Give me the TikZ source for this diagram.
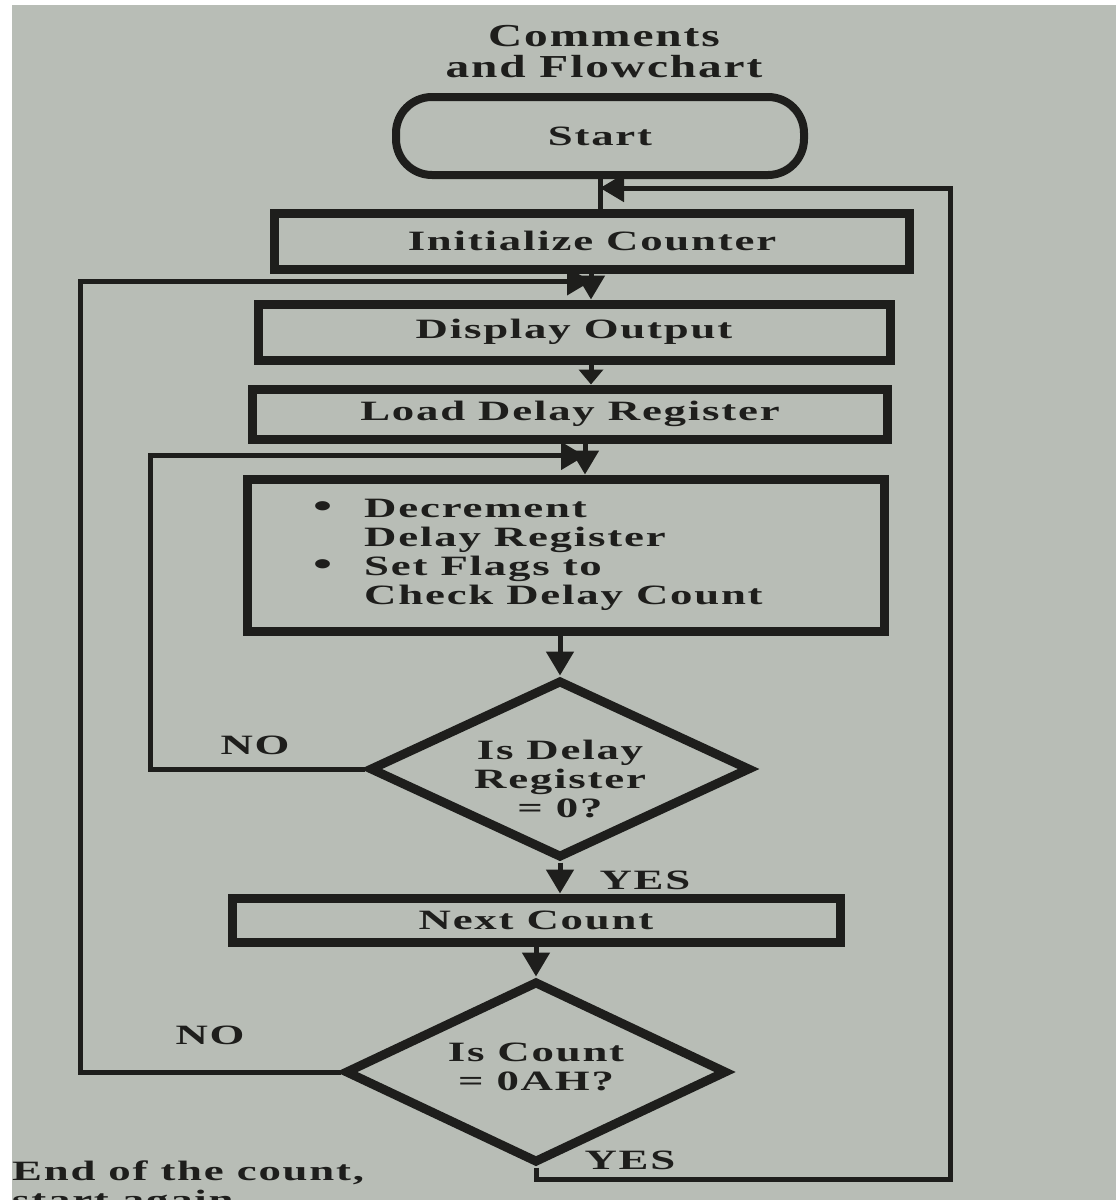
\documentclass[tikz,border=0pt]{standalone}
\usepackage{fontspec}
\setmainfont{Liberation Serif}[LetterSpace=4]
\usepackage{graphicx}
\usetikzlibrary{shapes.geometric,arrows.meta,calc}
\definecolor{paper}{RGB}{184,189,182}
\definecolor{ink}{RGB}{30,30,28}
% wide bold lettering used throughout the chart
\newcommand\stretched[1]{\scalebox{1.6}[1]{#1}}
\newcommand\titlestretch[1]{\scalebox{1.48}[1]{#1}}
\newcommand\bigdot{{\fontsize{34}{29}\selectfont\textbullet}}

\begin{document}
\begin{tikzpicture}[x=1pt,y=-1pt,
  every node/.style={text=ink, inner sep=0pt},
  boxtext/.style={font=\fontsize{28}{29}\selectfont\bfseries},
  procbox/.style={draw=ink, line width=9pt, rectangle, boxtext},
  termbox/.style={draw=ink, line width=8pt, rounded corners=36pt, boxtext},
  decision/.style={draw=ink, line width=9pt, diamond, aspect=2.14},
  flow/.style={draw=ink, line width=5pt},
  tip/.style={-{Triangle[length=24pt,width=27pt]}},
  shorttip/.style={-{Triangle[length=15pt,width=24pt]}},
  tag/.style={boxtext}]

% page
\fill[white] (0,0) rectangle (1116,1200);
\fill[paper] (12,5) rectangle (1116,1200);
\useasboundingbox (0,0) rectangle (1116,1200);

% columns of the vertical connectors
\coordinate (colS) at (600,0);
\coordinate (colA) at (591,0);
\coordinate (colB) at (585,0);
\coordinate (outx) at (80,0);
\coordinate (inx) at (150,0);
\coordinate (rightx) at (950,0);

% heading
\node[font=\fontsize{32}{30}\selectfont\bfseries] (title) at (604,56)
  {\titlestretch{\begin{tabular}{@{}c@{}}Comments\\and Flowchart\end{tabular}}};

% blocks
\node[termbox, minimum width=408pt, minimum height=78pt] (start) at (600,136) {\stretched{Start}};
\node[procbox, minimum width=635pt, minimum height=56pt] (init) at (592,241) {\stretched{Initialize Counter}};
\node[procbox, minimum width=632pt, minimum height=56pt] (disp) at (574,332) {\stretched{Display Output}};
\node[procbox, minimum width=635pt, minimum height=50pt] (load) at (570,414) {\stretched{Load Delay Register}};
\node[procbox, minimum width=637pt, minimum height=152pt] (dec) at (566,555) {};
\node[tag, anchor=west] (dectext) at ($(dec.west)+(70,0)$)
  {\stretched{\begin{tabular}{@{}l@{\hspace{20pt}}l@{}}
     \bigdot & Decrement\\
             & Delay Register\\
     \bigdot & Set Flags to\\
             & Check Delay Count
   \end{tabular}}};
\node[decision, minimum width=381pt, minimum height=178pt] (d1) at (560,769) {};
\node[tag] (d1text) at ($(d1.center)+(0,14)$)
  {\stretched{\begin{tabular}{@{}c@{}}Is Delay\\Register\\= 0?\end{tabular}}};
\node[procbox, minimum width=608pt, minimum height=44pt] (next) at (536,920) {\stretched{Next Count}};
\node[decision, minimum width=382pt, minimum height=182pt] (d2) at (536,1072) {};
\node[tag] (d2text) at ($(d2.center)+(0,-2)$)
  {\stretched{\begin{tabular}{@{}c@{}}Is Count\\= 0AH?\end{tabular}}};

% join points where the loops come back
\coordinate (rj) at ($(start.south -| colS)+(0,9)$);
\coordinate (outjoin) at ($(init.south -| colA)!0.3!(disp.north -| colA)$);
\coordinate (injoin) at ($(load.south -| colB)!0.4!(dec.north -| colB)$);
\coordinate (yesbend) at ($(d2.south)+(0,12)$);

% main flow
\draw[flow] (start.south -| colS) -- (init.north -| colS);
\draw[flow, tip] (init.south -| colA) -- (disp.north -| colA);
\draw[flow, shorttip] (disp.south -| colA) -- (load.north -| colA);
\draw[flow, tip] (load.south -| colB) -- (dec.north -| colB);
\draw[flow, tip] (dec.south -| d1.north) -- (d1.north);
\draw[flow, tip] (d1.south) -- (next.north -| d1.south);
\draw[flow, tip] (next.south -| d2.north) -- (d2.north);

% loops
\draw[flow, tip] (d1.west) -- (d1.west -| inx) |- (injoin);
\draw[flow, tip] (d2.west) -- (d2.west -| outx) |- (outjoin);
\draw[flow, tip] (d2.south) -- (yesbend) -- (yesbend -| rightx) |- (rj);

% branch labels
\node[tag] (no1) at (255,745) {\stretched{NO}};
\node[tag] (yes1) at (645,880) {\stretched{YES}};
\node[tag] (no2) at (210,1035) {\stretched{NO}};
\node[tag] (yes2) at (630,1160) {\stretched{YES}};

% note below the chart
\node[tag, anchor=base west] (note1) at (12,1180) {\stretched{End of the count,}};
\node[tag, anchor=base west] (note2) at (12,1209) {\stretched{start again,}};
\end{tikzpicture}
\end{document}
